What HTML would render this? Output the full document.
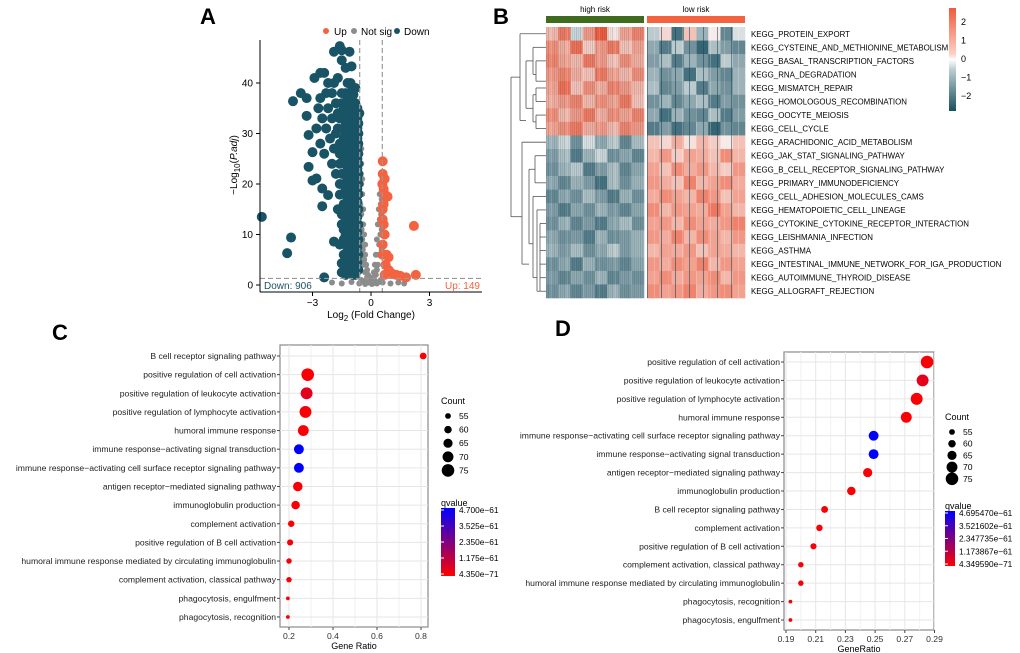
<!DOCTYPE html>
<html><head><meta charset="utf-8"><style>
html,body{margin:0;padding:0;background:#fff;}
svg{display:block;font-family:"Liberation Sans",Arial,sans-serif;}
</style></head><body>
<svg id="fig" width="1020" height="653" viewBox="0 0 1020 653" xmlns="http://www.w3.org/2000/svg">
<g id="gA"></g>
<g id="gB"></g>
<g id="gC"></g>
<g id="gD"></g>
</svg>
<script>
// ---------- Panel A data ----------
const downPts = [-5.6,13.5,-4.3,6.3,-4.1,9.4,-4.0,36.4,-3.6,38,-3.3,37,-3.3,33.5,-3.2,29.7,-3.2,23.4,-3.0,26.3,-3.0,20.7,-2.8,21.1,-2.5,15.6,-2.5,19.1,-2.4,1.5,-2.9,41,-2.6,42,-2.4,42,-2.2,40,-2.0,38,-2.7,35,-2.5,33,-2.3,31,-2.1,29,-1.9,27,-2.0,24,-1.8,22,-2.2,17.8,-1.9,8.6,-1.6,17.9,-1.6,47.3,-1.9,46.2,-1.5,46.5,-1.1,46.2,-1.3,43,-1.0,43.3,-1.5,44.5,-1.7,41,-0.8,39,-0.9,37.7,-0.7,35,-0.7,33,-2.8,31,-2.6,28,-2.4,26,-2.2,35,-1.8,36,-1.6,33,-1.4,31,-1.6,28,-1.4,25,-1.2,22,-1.3,19,-1.1,16,-1.3,13,-1.1,10,-1.2,7,-1.0,4,-1.3,3,-0.9,2,-1.5,4.3,-1.5,2.5,-1.5,12,-1.4,9,-2.3,38,-2.0,33,-1.8,30,-2.6,37,-1.9,40,-1.2,40,-1.0,36,
-1.3,2,-1.05,2.5,-0.8,2,-0.65,3,-1.3,4,-1.05,5,-0.8,4.5,-0.65,6,-1.3,6,-1.05,7.5,-0.8,8,-0.65,9,-1.3,8,-1.05,10,-0.8,11,-0.65,12,-1.3,10,-1.05,12,-0.8,13.5,-0.65,15,-1.3,12,-1.05,14,-0.8,16,-0.65,18,-1.3,14,-1.05,16.5,-0.8,18,-0.65,20,-1.3,16,-1.05,18,-0.8,20,-0.65,22,-1.3,18,-1.05,20,-0.8,22,-0.65,24,-1.3,20,-1.05,22,-0.8,24,-0.65,26,-1.3,22,-1.05,24,-0.8,26,-0.65,28,-1.3,24,-1.05,26,-0.8,28,-0.65,30,-1.3,26,-1.05,28,-0.8,30,-0.65,32,-1.3,28,-1.05,30,-0.8,32,-0.6,34,-1.3,30,-1.05,32,-0.8,34,-1.3,32,-1.05,34,-0.8,36,-1.3,34,-1.05,36,-1.3,36,-1.05,38,-1.3,38,-1.05,40,-1.5,36,-1.5,38,-1.7,34,-1.7,31,-1.5,22,-1.6,20,-1.4,16,-1.5,14,-1.4,6,
-1.2,3,-0.95,3.5,-0.7,4.5,-1.2,5,-0.95,6,-0.7,7.5,-1.2,9,-0.95,9,-0.7,10.5,-1.2,11,-0.95,11,-0.7,13.5,-1.2,13,-0.95,13,-0.7,16.5,-1.2,15,-0.95,15,-0.7,19,-1.2,17,-0.95,17,-0.7,21,-1.2,19,-0.95,19,-0.7,23,-1.2,21,-0.95,21,-0.7,25,-1.2,23,-0.95,23,-0.7,27,-1.2,25,-0.95,25,-0.7,29,-1.2,27,-0.95,27,-0.7,31,-1.2,29,-0.95,29,-1.2,31,-0.95,31,-1.2,33,-0.95,33,-1.2,35,-0.95,35,-1.2,37,-0.95,39,-1.4,27,-1.4,29,-1.4,33,-1.4,35,-1.6,24,-1.6,26,-1.4,20,-1.4,22,-1.4,11,-1.4,14,-1.6,8,-1.7,15];
const nsPts = [-0.55,30,-0.5,27,-0.5,24,-0.45,21,-0.45,18,-0.4,15,-0.4,12,-0.35,10,-0.3,8,-0.3,6,-0.25,4,-0.2,3,-0.15,2,-0.1,1.5,0,1,0.1,1.5,0.15,2.5,0.2,4,0.25,6,0.3,9,0.35,12,0.4,15,0.45,18,0.5,20,0.55,17,0.45,13,-0.5,20,-0.55,16,-0.45,9,-0.35,5,0.3,3,0.4,6,-2.0,0.5,-1.5,0.3,-1.0,0.6,-0.6,0.3,-0.3,0.2,0.3,0.3,0.6,0.5,1.0,0.3,1.4,0.5,1.7,0.3,0.05,0.2,-0.15,0.5,0.2,0.8,-0.5,1,0.5,1,
-0.55,26,-0.52,22,-0.5,14,-0.48,11,-0.42,7,-0.38,4,-0.3,2.5,-0.2,1.5,0.1,0.6,0.25,2,0.35,4,0.42,8,0.48,10,0.52,14,0.5,16,0.55,19,-0.55,12,-0.55,8,0.55,11,0.55,7,-0.1,0.5,0.15,0.4,-0.4,0.8,0.4,0.6];
const upPts = [0.6,24.5,0.6,22,0.58,20,0.7,18,0.85,17.5,0.6,15,0.65,12,0.7,10,0.6,8,0.8,6,0.9,5.5,0.75,4,0.9,3,1.0,2.5,1.1,2.2,1.3,2,1.5,1.8,1.8,1.5,2.3,2,2.2,11.7,0.7,21,0.65,19,0.6,13,0.6,6,0.7,2,0.65,16];
const aXTicks = [-3,0,3];
const aYTicks = [0,10,20,30,40];

// ---------- Panel B data ----------
const hmRows = ["KEGG_PROTEIN_EXPORT","KEGG_CYSTEINE_AND_METHIONINE_METABOLISM","KEGG_BASAL_TRANSCRIPTION_FACTORS","KEGG_RNA_DEGRADATION","KEGG_MISMATCH_REPAIR","KEGG_HOMOLOGOUS_RECOMBINATION","KEGG_OOCYTE_MEIOSIS","KEGG_CELL_CYCLE","KEGG_ARACHIDONIC_ACID_METABOLISM","KEGG_JAK_STAT_SIGNALING_PATHWAY","KEGG_B_CELL_RECEPTOR_SIGNALING_PATHWAY","KEGG_PRIMARY_IMMUNODEFICIENCY","KEGG_CELL_ADHESION_MOLECULES_CAMS","KEGG_HEMATOPOIETIC_CELL_LINEAGE","KEGG_CYTOKINE_CYTOKINE_RECEPTOR_INTERACTION","KEGG_LEISHMANIA_INFECTION","KEGG_ASTHMA","KEGG_INTESTINAL_IMMUNE_NETWORK_FOR_IGA_PRODUCTION","KEGG_AUTOIMMUNE_THYROID_DISEASE","KEGG_ALLOGRAFT_REJECTION"];
const hmValues = [
[0.6,1.2,-0.3,0.9,1.5,0.2,0.8,1.1,-0.4,0.3,-1.2,0.5,-0.6,0.1,-1.0,-0.2],
[1.0,0.7,1.3,0.4,0.9,1.2,0.5,0.8,-0.7,-1.1,-0.4,-0.9,-1.3,-0.5,-0.8,-1.0],
[1.1,0.8,0.6,1.2,0.9,0.5,1.0,0.7,-0.8,-0.5,-1.1,-0.6,-0.9,-1.2,-0.4,-0.7],
[0.9,1.1,0.7,0.5,1.2,0.8,0.6,1.0,-0.6,-0.9,-0.7,-1.2,-0.5,-0.8,-1.0,-0.6],
[0.8,1.3,0.5,1.0,0.7,1.1,0.9,0.6,-0.5,-1.0,-0.8,-0.4,-1.1,-0.7,-0.9,-0.6],
[0.7,0.9,1.1,0.6,1.0,0.8,1.2,0.5,-0.9,-0.6,-1.0,-0.7,-0.5,-1.1,-0.8,-0.9],
[1.0,0.6,0.9,1.2,0.7,1.0,0.8,1.1,-0.7,-1.2,-0.6,-0.9,-1.0,-0.5,-1.1,-0.8],
[0.8,1.0,1.2,0.7,0.9,0.6,1.1,0.9,-1.1,-0.8,-1.2,-1.0,-0.7,-1.3,-0.9,-1.0],
[-0.6,-0.3,-0.9,-0.2,-0.7,-0.4,-1.0,-0.5,0.5,0.3,0.7,0.2,0.6,0.4,0.1,0.5],
[-0.8,-0.5,-1.1,-0.6,-0.3,-0.9,-0.7,-1.0,0.6,0.9,0.4,0.8,0.7,0.5,1.0,0.6],
[-0.9,-0.6,-0.4,-1.1,-0.8,-0.5,-1.0,-0.7,0.8,0.5,1.0,0.7,0.9,0.6,0.4,0.9],
[-0.7,-1.0,-0.6,-0.8,-1.2,-0.5,-0.9,-0.6,0.9,0.7,0.5,1.1,0.6,0.8,1.0,0.7],
[-1.0,-0.7,-0.9,-0.5,-0.8,-1.1,-0.6,-0.9,0.7,1.0,0.8,0.6,1.1,0.9,0.5,0.8],
[-0.8,-1.1,-0.7,-0.9,-0.6,-0.8,-1.0,-0.7,1.0,0.6,0.9,0.8,0.7,1.2,0.8,0.6],
[-0.9,-0.6,-1.0,-0.8,-1.1,-0.7,-0.5,-0.9,0.8,0.9,0.6,1.0,0.8,0.7,0.9,1.1],
[-0.7,-0.9,-0.8,-1.1,-0.6,-0.9,-0.8,-0.6,0.9,0.7,1.1,0.6,1.0,0.8,0.6,0.9],
[-0.6,-0.8,-0.5,-0.9,-0.7,-0.4,-0.8,-0.6,0.6,0.8,0.7,0.9,0.5,0.8,0.7,0.6],
[-0.9,-0.7,-1.1,-0.6,-0.9,-0.8,-1.0,-0.7,0.9,0.7,1.0,0.8,1.1,0.6,0.9,0.8],
[-0.8,-1.0,-0.7,-0.9,-0.6,-1.0,-0.8,-0.9,0.8,1.0,0.7,0.9,0.8,1.0,0.6,0.9],
[-0.9,-0.7,-1.0,-0.8,-1.1,-0.6,-0.9,-0.8,1.0,0.8,0.9,1.1,0.7,0.9,1.0,0.8]];
const hmScaleTicks = [2,1,0,-1,-2];

// ---------- Panel C data ----------
const cTerms = ["B cell receptor signaling pathway","positive regulation of cell activation","positive regulation of leukocyte activation","positive regulation of lymphocyte activation","humoral immune response","immune response\u2212activating signal transduction","immune response\u2212activating cell surface receptor signaling pathway","antigen receptor\u2212mediated signaling pathway","immunoglobulin production","complement activation","positive regulation of B cell activation","humoral immune response mediated by circulating immunoglobulin","complement activation, classical pathway","phagocytosis, engulfment","phagocytosis, recognition"];
const cRatio = [0.81,0.285,0.28,0.275,0.265,0.245,0.245,0.24,0.23,0.21,0.205,0.2,0.2,0.195,0.195];
const cCount = [58,75,73,73,70,67,67,66,63,57,56,54,54,49,49];
const cQ = [0.1,0.1,0.5,0.1,0.1,4.7,4.7,0.1,0.1,0.1,0.1,0.1,0.1,0.1,0.1];
const cXTicks = [0.2,0.4,0.6,0.8];
const cQLabels = ["4.700e\u221261","3.525e\u221261","2.350e\u221261","1.175e\u221261","4.350e\u221271"];

// ---------- Panel D data ----------
const dTerms = ["positive regulation of cell activation","positive regulation of leukocyte activation","positive regulation of lymphocyte activation","humoral immune response","immune response\u2212activating cell surface receptor signaling pathway","immune response\u2212activating signal transduction","antigen receptor\u2212mediated signaling pathway","immunoglobulin production","B cell receptor signaling pathway","complement activation","positive regulation of B cell activation","complement activation, classical pathway","humoral immune response mediated by circulating immunoglobulin","phagocytosis, recognition","phagocytosis, engulfment"];
const dRatio = [0.285,0.282,0.278,0.271,0.249,0.249,0.245,0.234,0.216,0.2125,0.2085,0.2,0.2,0.193,0.193];
const dCount = [75,73,73,70,67,67,65,63,58,57,56,54,54,49,49];
const dQ = [0.1,0.5,0.1,0.1,4.69,4.69,0.1,0.1,0.1,0.1,0.1,0.1,0.1,0.1,0.1];
const dXTicks = [0.19,0.21,0.23,0.25,0.27,0.29];
const dQLabels = ["4.695470e\u221261","3.521602e\u221261","2.347735e\u221261","1.173867e\u221261","4.349590e\u221271"];
const legCounts = [55,60,65,70,75];

const NS="http://www.w3.org/2000/svg";
function mk(parent, tag, attrs, name, text){
  const el=document.createElementNS(NS,tag);
  for(const k in attrs) el.setAttribute(k,attrs[k]);
  
  
  if(text!==undefined) el.textContent=text;
  parent.appendChild(el);
  return el;
}
const gA=document.getElementById('gA'),gB=document.getElementById('gB'),gC=document.getElementById('gC'),gD=document.getElementById('gD');

// ===== Panel A =====
const xA=v=>371+v*19.5, yA=v=>285-v*5.05;
mk(gA,'text',{x:200,y:24,'font-size':22,'font-weight':'bold'},'panel-label-a','A');
mk(gA,'circle',{cx:326,cy:31,r:3,fill:'#f4623f'},'legend-up-dot');
mk(gA,'text',{x:334,y:35,'font-size':10},'legend-up','Up');
mk(gA,'circle',{cx:354,cy:31,r:3,fill:'#8c8c8c'},'legend-notsig-dot');
mk(gA,'text',{x:361,y:35,'font-size':10},'legend-notsig','Not sig');
mk(gA,'circle',{cx:397,cy:31,r:3,fill:'#195466'},'legend-down-dot');
mk(gA,'text',{x:404,y:35,'font-size':10},'legend-down','Down');
function pts(arr,col,r,name){for(let i=0;i<arr.length;i+=2){mk(gA,'circle',{cx:xA(arr[i]),cy:yA(arr[i+1]),r:r,fill:col},name);}}
pts(nsPts,'#8c8c8c',3,'point-notsig');
pts(downPts,'#195466',5,'point-down');
pts(upPts,'#f4623f',5,'point-up');
mk(gA,'line',{x1:xA(-0.58),x2:xA(-0.58),y1:40,y2:292,stroke:'#999','stroke-dasharray':'5,3','stroke-width':1.2},'fc-threshold-left');
mk(gA,'line',{x1:xA(0.58),x2:xA(0.58),y1:40,y2:292,stroke:'#999','stroke-dasharray':'5,3','stroke-width':1.2},'fc-threshold-right');
mk(gA,'line',{x1:260,x2:482,y1:yA(1.3),y2:yA(1.3),stroke:'#999','stroke-dasharray':'5,3','stroke-width':1.2},'p-threshold');
mk(gA,'line',{x1:260,x2:260,y1:40,y2:292,stroke:'#000'},'y-axis');
mk(gA,'line',{x1:260,x2:482,y1:292,y2:292,stroke:'#000'},'x-axis');
aXTicks.forEach(t=>{mk(gA,'line',{x1:xA(t),x2:xA(t),y1:292,y2:296,stroke:'#000'},'x-tick');mk(gA,'text',{x:xA(t),y:306,'font-size':10,'text-anchor':'middle'},'x-tick-label',t===0?'0':(t<0?'\u22123':'3'));});
aYTicks.forEach(t=>{mk(gA,'line',{x1:256,x2:260,y1:yA(t),y2:yA(t),stroke:'#000'},'y-tick');mk(gA,'text',{x:253,y:yA(t)+3.5,'font-size':10,'text-anchor':'end'},'y-tick-label',String(t));});
mk(gA,'text',{x:264,y:289,'font-size':10,fill:'#195466'},'down-count','Down: 906');
mk(gA,'text',{x:480,y:289,'font-size':10,fill:'#f4623f','text-anchor':'end'},'up-count','Up: 149');
const yl=mk(gA,'text',{transform:'translate(237,165) rotate(-90)','font-size':10,'text-anchor':'middle'},'y-axis-title');
yl.innerHTML='\u2212Log<tspan dy="3" font-size="8">10</tspan><tspan dy="-3">(</tspan><tspan font-style="italic">P.adj</tspan>)';
const xl=mk(gA,'text',{x:371,y:318,'font-size':10,'text-anchor':'middle'},'x-axis-title');
xl.innerHTML='Log<tspan dy="3" font-size="8">2</tspan><tspan dy="-3"> (Fold Change)</tspan>';

// ===== Panel B =====
mk(gB,'text',{x:493,y:24,'font-size':22,'font-weight':'bold'},'panel-label-b','B');
const hx0=546, hw=98, hgap=3, hy0=27, hh=271;
const nR=hmRows.length, nC=hmValues[0].length, half=nC/2, cw=hw/half, rh=hh/nR;
function hcol(v){v=Math.max(-2.5,Math.min(2.5,v));
  let c0=[248,246,245],c1=v>=0?[236,88,58]:[24,78,95];const tt=Math.min(1,Math.abs(v)/1.5);
  return 'rgb('+c0.map((c,i)=>Math.round(c+(c1[i]-c)*tt)).join(',')+')';}
mk(gB,'rect',{x:hx0,y:16,width:hw,height:7,fill:'#3e6b1e'},'annotation-high-risk');
mk(gB,'rect',{x:hx0+hw+hgap,y:16,width:hw,height:7,fill:'#f4623f'},'annotation-low-risk');
mk(gB,'text',{x:hx0+hw/2,y:12,'font-size':8,'text-anchor':'middle'},'label-high-risk','high risk');
mk(gB,'text',{x:hx0+hw+hgap+hw/2,y:12,'font-size':8,'text-anchor':'middle'},'label-low-risk','low risk');
hmValues.forEach((row,r)=>{row.forEach((v,c)=>{
  const x=hx0+(c<half?c*cw:hw+hgap+(c-half)*cw);
  mk(gB,'rect',{x:x,y:hy0+r*rh,width:cw+0.3,height:rh+0.3,fill:hcol(v)},'heatmap-cell');
});
  mk(gB,'text',{x:751,y:hy0+r*rh+rh/2+3,'font-size':7.9},'row-label',hmRows[r]);
});
// fine vertical streak texture (decorative)
const streakOp=[0.18,0,0.3,0.08,0,0.22,0.12,0,0.26,0.05,0.15,0,0.2,0.1,0.28,0];
for(let c=0;c<98;c++){const op=streakOp[c%16];if(!op)continue;
  const col=(c%2)?'#ffffff':'#1a4f5f';
  mk(gB,'rect',{x:hx0+c*1,y:hy0,width:1,height:hh,fill:col,opacity:op*0.6},'heatmap-streak');
  mk(gB,'rect',{x:hx0+hw+hgap+((c*7)%98),y:hy0,width:1,height:hh,fill:col,opacity:op*0.6},'heatmap-streak');}
// dendrogram
const ry=i=>hy0+rh*(i+0.5);
const dl=[[511,ry(3.2),511,ry(13.5)],[511,ry(3.2),520,ry(3.2)],[511,ry(13.5),522,ry(13.5)],
[520,ry(0),520,ry(6.4)],[520,ry(0),546,ry(0)],[520,ry(6.4),526,ry(6.4)],[526,ry(2),526,ry(5.5)],[526,ry(2),533,ry(2)],[526,ry(5.5),533,ry(5.5)],
[533,ry(1),533,ry(3)],[533,ry(1),546,ry(1)],[533,ry(3),536,ry(3)],[536,ry(2),536,ry(3.5)],[536,ry(2),546,ry(2)],[536,ry(3.5),546,ry(3.5)],
[533,ry(4.5),533,ry(6.5)],[533,ry(4.5),536,ry(4.5)],[536,ry(4),536,ry(5)],[536,ry(4),546,ry(4)],[536,ry(5),546,ry(5)],[533,ry(6.5),536,ry(6.5)],[536,ry(6),536,ry(7)],[536,ry(6),546,ry(6)],[536,ry(7),546,ry(7)],
[522,ry(8),522,ry(17)],[522,ry(8),546,ry(8)],[522,ry(17),529,ry(17)],[529,ry(10),529,ry(15.5)],[529,ry(10),535,ry(10)],[535,ry(9),535,ry(11)],[535,ry(9),546,ry(9)],[535,ry(11),546,ry(11)],
[529,ry(15.5),533,ry(15.5)],[533,ry(12),533,ry(18)],[533,ry(12),546,ry(12)],[533,ry(18),537,ry(18)],[537,ry(13),537,ry(19)],[537,ry(13),546,ry(13)],[537,ry(19),540,ry(19)],[540,ry(14),540,ry(19)],[540,ry(14),546,ry(14)],[540,ry(15),546,ry(15)],[540,ry(16),546,ry(16)],[540,ry(17),546,ry(17)],[540,ry(18),546,ry(18)],[540,ry(19),546,ry(19)]];
dl.forEach(l=>mk(gB,'line',{x1:l[0],y1:l[1],x2:l[2],y2:l[3],stroke:'#555','stroke-width':0.8},'dendrogram-branch'));
const gd=mk(gB,'defs',{},'defs-b');
const lg=mk(gd,'linearGradient',{id:'hmGrad',x1:0,y1:0,x2:0,y2:1},'heatmap-gradient');
[[0,'#ef5a3a'],[0.45,'#fbd2c6'],[0.5,'#ffffff'],[0.6,'#b8cdd2'],[1,'#185060']].forEach(s=>mk(lg,'stop',{offset:s[0],'stop-color':s[1]},'gradient-stop'));
mk(gB,'rect',{x:949,y:8,width:7,height:103,fill:'url(#hmGrad)'},'heatmap-colorbar');
hmScaleTicks.forEach(t=>mk(gB,'text',{x:961,y:59-t*18.5+3,'font-size':9},'colorbar-label',t<0?'\u2212'+(-t):String(t)));

// ===== Dot plots =====
function rad(c){return 1.2+(c-45)*0.17;}
function qcol(q,qm){const t=Math.min(1,q/qm);return 'rgb('+Math.round(255*(1-t))+',0,'+Math.round(255*t)+')';}
function dotplot(g,id,P){
  mk(g,'rect',{x:P.x0,y:P.y0,width:P.x1-P.x0,height:P.y1-P.y0,fill:'#fff',stroke:'#8a8a8a','stroke-width':1.2},'plot-panel');
  P.minor.forEach(t=>mk(g,'line',{x1:P.xs(t),x2:P.xs(t),y1:P.y0,y2:P.y1,stroke:'#f2f2f2'},'grid-minor'));
  P.ticks.forEach(t=>mk(g,'line',{x1:P.xs(t),x2:P.xs(t),y1:P.y0,y2:P.y1,stroke:'#e6e6e6'},'grid-major'));
  P.terms.forEach((term,i)=>{const y=P.ys(i);
    mk(g,'line',{x1:P.x0,x2:P.x1,y1:y,y2:y,stroke:'#e6e6e6'},'grid-row');
    mk(g,'line',{x1:P.x0-3,x2:P.x0,y1:y,y2:y,stroke:'#444'},'y-tick');
    mk(g,'text',{x:P.x0-4,y:y+3,'font-size':8.6,'text-anchor':'end',fill:'#222'},'term-label',term);
  });
  P.terms.forEach((term,i)=>mk(g,'circle',{cx:P.xs(P.ratio[i]),cy:P.ys(i),r:rad(P.count[i]),fill:qcol(P.q[i],P.qm)},'dot'));
  P.ticks.forEach(t=>{mk(g,'line',{x1:P.xs(t),x2:P.xs(t),y1:P.y1,y2:P.y1+3,stroke:'#444'},'x-tick');
    mk(g,'text',{x:P.xs(t),y:P.y1+12,'font-size':8.6,'text-anchor':'middle',fill:'#333'},'x-tick-label',String(t));});
  mk(g,'text',{x:(P.x0+P.x1)/2,y:P.y1+22,'font-size':9,'text-anchor':'middle'},'x-axis-title',P.xt);
  mk(g,'text',{x:P.lx,y:P.cy0-12,'font-size':9},'count-legend-title','Count');
  legCounts.forEach((c,i)=>{const y=P.cy0+i*P.cdy;mk(g,'circle',{cx:P.lx+7,cy:y,r:rad(c),fill:'#000'},'count-legend-dot');
    mk(g,'text',{x:P.lx+18,y:y+3,'font-size':8.6},'count-legend-label',String(c));});
  mk(g,'text',{x:P.lx,y:P.qy0-2,'font-size':9},'qvalue-legend-title','qvalue');
  const d=mk(g,'defs',{},'defs');const gr=mk(d,'linearGradient',{id:id,x1:0,y1:0,x2:0,y2:1},'qvalue-gradient');
  mk(gr,'stop',{offset:0,'stop-color':'#0000ff'},'gradient-stop');mk(gr,'stop',{offset:1,'stop-color':'#ff0000'},'gradient-stop');
  mk(g,'rect',{x:P.lx,y:P.qy0,width:P.qw,height:P.qh,fill:'url(#'+id+')'},'qvalue-colorbar');
  P.qlab.forEach((l,i)=>{const y=P.qy0+2+i*(P.qh-4)/4;mk(g,'line',{x1:P.lx,x2:P.lx+3,y1:y,y2:y,stroke:'#fff'},'qvalue-tick');
    mk(g,'text',{x:P.lx+P.qw+4,y:y+3,'font-size':8.3},'qvalue-label',l);});
}
mk(gC,'text',{x:52,y:340,'font-size':22,'font-weight':'bold'},'panel-label-c','C');
dotplot(gC,'qgC',{x0:280,x1:428,y0:345,y1:627,xs:v=>289+(v-0.2)*220,ys:i=>356+i*18.64,terms:cTerms,ratio:cRatio,count:cCount,q:cQ,qm:4.7,
  ticks:cXTicks,minor:[0.3,0.5,0.7],xt:'Gene Ratio',lx:441,cy0:416,cdy:13.6,qy0:508,qw:14,qh:68,qlab:cQLabels});
mk(gD,'text',{x:555,y:336,'font-size':22,'font-weight':'bold'},'panel-label-d','D');
dotplot(gD,'qgD',{x0:784,x1:934,y0:352,y1:630,xs:v=>786+(v-0.19)*1485,ys:i=>362+i*18.43,terms:dTerms,ratio:dRatio,count:dCount,q:dQ,qm:4.69,
  ticks:dXTicks,minor:[0.20,0.22,0.24,0.26,0.28],xt:'GeneRatio',lx:945,cy0:432,cdy:11.7,qy0:511,qw:10,qh:55,qlab:dQLabels});
</script>
</body></html>
